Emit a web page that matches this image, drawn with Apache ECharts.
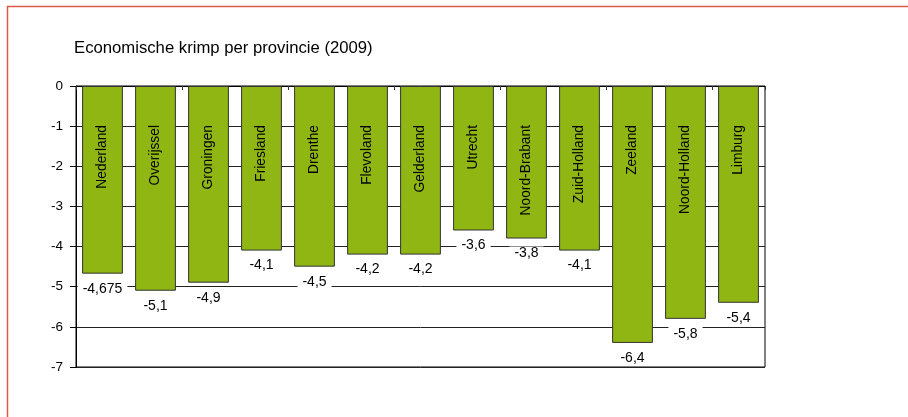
<!DOCTYPE html>
<html>
<head>
<meta charset="utf-8">
<script src="https://cdn.jsdelivr.net/npm/echarts@6/dist/echarts.min.js"></script>
<style>
html,body{margin:0;padding:0;background:#fff;}
#c{width:908px;height:417px;}
</style>
</head>
<body>
<div id="c"></div>
<script>
var titleText = 'Economische krimp per provincie (2009)';
var provinces = ['Nederland','Overijssel','Groningen','Friesland','Drenthe','Flevoland','Gelderland','Utrecht','Noord-Brabant','Zuid-Holland','Zeeland','Noord-Holland','Limburg'];
var values = [-4.675,-5.1,-4.9,-4.1,-4.5,-4.2,-4.2,-3.6,-3.8,-4.1,-6.4,-5.8,-5.4];
var yMin = -7, yMax = 0, yStep = 1;

var FONT = '"Liberation Sans", Arial, sans-serif';
var chart = echarts.init(document.getElementById('c'), null, {renderer:'canvas'});
chart.setOption({
  animation: false,
  backgroundColor: '#fff',
  title: {
    text: titleText, left: 74, top: 40, padding: 0,
    textStyle: {fontFamily: FONT, fontSize: 16.7, fontWeight: 'normal', color: '#000'}
  },
  grid: {left: 76, right: 143, top: 86, bottom: 50, show: true, borderColor: '#000', borderWidth: 1, backgroundColor: 'transparent'},
  xAxis: {
    type: 'category', data: provinces, position: 'top',
    axisLine: {onZero: false, lineStyle: {color: '#000', width: 1}},
    axisTick: {show: true, inside: true, length: 4, lineStyle: {color: '#333'}},
    axisLabel: {show: false},
    splitLine: {show: false}
  },
  yAxis: {
    type: 'value', min: yMin, max: yMax, interval: yStep,
    axisLine: {show: true, lineStyle: {color: '#000', width: 1}},
    axisTick: {show: true, length: 6, lineStyle: {color: '#000'}},
    axisLabel: {margin: 13, color: '#000', fontFamily: FONT, fontSize: 13.5},
    splitLine: {show: true, lineStyle: {color: '#222', width: 1}}
  },
  series: [
    {
      type: 'bar', data: values, barCategoryGap: '23%', z: 2,
      itemStyle: {color: '#8fb613', borderColor: '#333', borderWidth: 1},
      label: {
        show: true, position: ['50%', 39], rotate: 90, align: 'right', verticalAlign: 'middle',
        formatter: function(p){ return p.name; },
        color: '#000', fontFamily: FONT, fontSize: 13.8
      }
    },
    {
      type: 'bar', data: values, barGap: '-100%', barCategoryGap: '23%', z: 3,
      itemStyle: {color: 'rgba(0,0,0,0)', borderWidth: 0},
      label: {
        show: true, position: 'bottom', distance: 8,
        backgroundColor: '#fff', padding: [0, 5],
        formatter: function(p){ return String(p.value).replace('.', ','); },
        color: '#000', fontFamily: FONT, fontSize: 14
      }
    }
  ],
  graphic: [
    {type: 'line', shape: {x1: 7, y1: 6.5, x2: 908, y2: 6.5}, style: {stroke: '#dd5a48', lineWidth: 1.5}},
    {type: 'line', shape: {x1: 7.5, y1: 6, x2: 7.5, y2: 417}, style: {stroke: '#dd5a48', lineWidth: 1.5}}
  ]
});
</script>
</body>
</html>
